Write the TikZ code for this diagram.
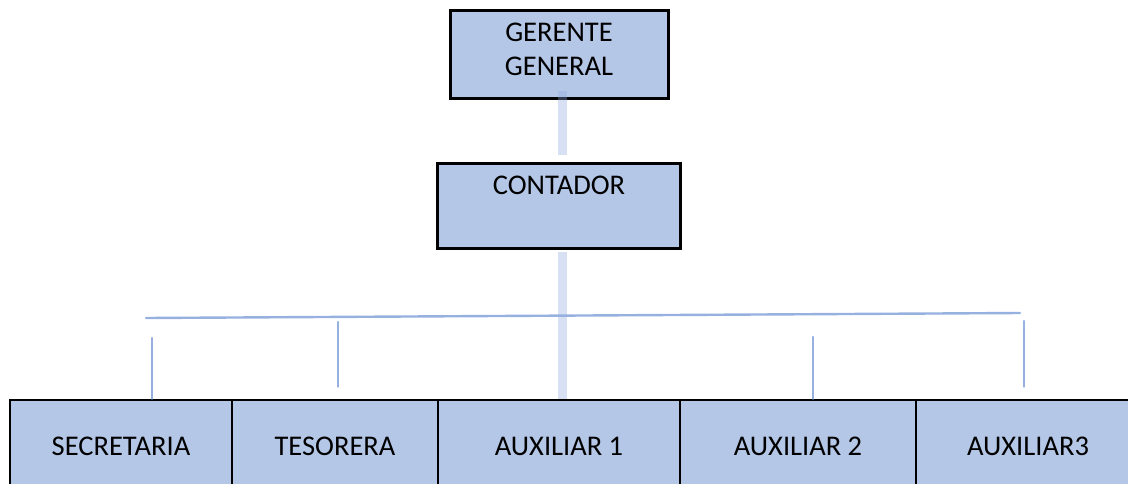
\documentclass[tikz,border=0pt]{standalone}
\usepackage{fontspec}
\setmainfont{Carlito}
\definecolor{boxfill}{RGB}{180,199,231}
\definecolor{connblue}{RGB}{143,170,220}
\definecolor{thinblue}{RGB}{150,177,224}
\begin{document}
\begin{tikzpicture}[x=1pt,y=-1pt,
  box/.style={draw=black, line width=3pt, fill=boxfill, inner sep=0pt},
  cell/.style={draw=black, line width=2.8pt, fill=boxfill, inner sep=0pt, font=\fontsize{28.5}{34}\selectfont},
  boxtext/.style={font=\fontsize{28.5}{34}\selectfont, align=center, inner sep=0pt},
  spine/.style={line width=9pt, draw=connblue, draw opacity=0.35},
  branch/.style={line width=2.4pt, draw=thinblue, line cap=round},
]
\useasboundingbox (0,0) rectangle (1128,483);
\clip (0,0) rectangle (1128,483);

% top boxes
\node[box, minimum width=218pt, minimum height=88pt] (gg) at (559,54) {};
\node[boxtext] (ggt) at (559,49) {GERENTE\\GENERAL};
\node[box, minimum width=243pt, minimum height=85pt] (ct) at (558.5,205.5) {};
\node[boxtext] (ctt) at (559,185) {CONTADOR};

% bottom row
\node[cell, minimum width=222pt, minimum height=92pt] (sec) at (121,446) {SECRETARIA};
\node[cell, minimum width=206pt, minimum height=92pt] (tes) at (335,446) {TESORERA};
\node[cell, minimum width=242pt, minimum height=92pt] (aux1) at (559,446) {AUXILIAR 1};
\node[cell, minimum width=236pt, minimum height=92pt] (aux2) at (798,446) {AUXILIAR 2};
\node[cell, minimum width=224pt, minimum height=92pt] (aux3) at (1028,446) {AUXILIAR3};

% spine
\coordinate (sp) at (562,0);
\draw[spine, shorten <=-9pt, shorten >=7pt] (gg.south -| sp) -- (ct.north -| sp);
\draw[spine, shorten <=2pt] (ct.south -| sp) -- (aux1.north -| sp);

% horizontal branch
\coordinate (hl) at (146,318);
\coordinate (hr) at (1020,313);
\draw[branch] (hl) -- (hr);

% vertical branches
\coordinate (v1) at (152,338);
\coordinate (v2) at (338,322);
\coordinate (v3) at (813,337);
\coordinate (v4) at (1024,321);
\draw[branch] (v1) -- (v1 |- sec.north);
\draw[branch, shorten >=12pt] (v2) -- (v2 |- tes.north);
\draw[branch] (v3) -- (v3 |- aux2.north);
\draw[branch, shorten >=12pt] (v4) -- (v4 |- aux3.north);
\end{tikzpicture}
\end{document}
